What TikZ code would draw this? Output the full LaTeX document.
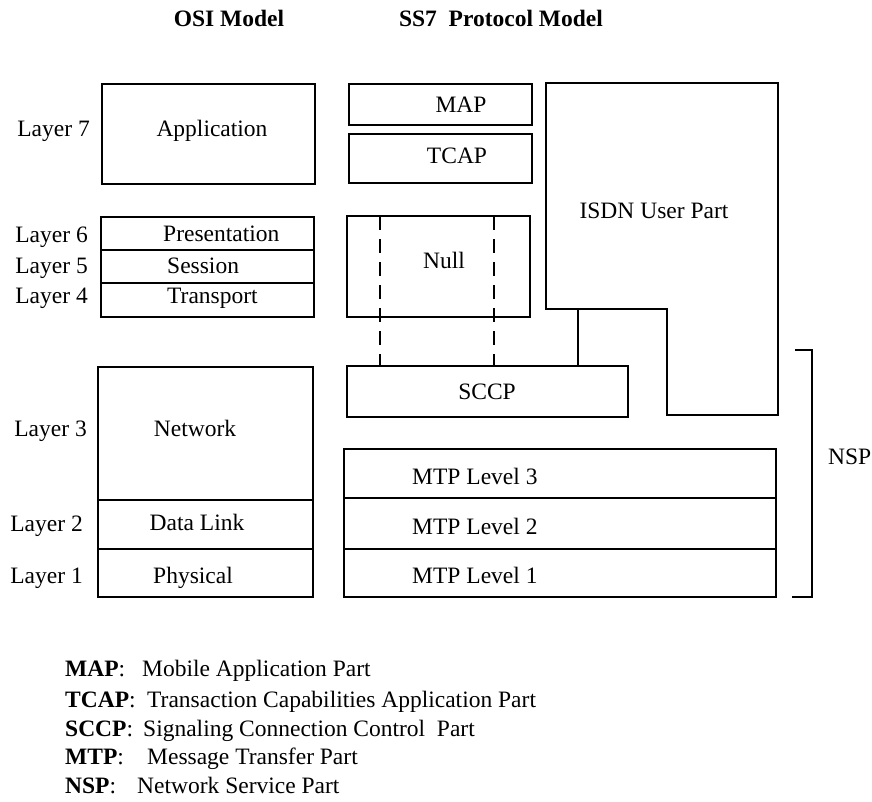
\documentclass[tikz,border=0pt]{standalone}
\usepackage{fontspec}
\setmainfont{Liberation Serif}
\begin{document}
\begin{tikzpicture}[x=1pt,y=-1pt,
  box/.style={draw, line width=1.3pt, rectangle, inner sep=0pt, outer sep=0pt},
  txt/.style={inner sep=0pt, font=\fontsize{23.5}{27}\selectfont, text height=16pt, text depth=5pt},
  ttl/.style={txt, font=\fontsize{23.5}{27}\selectfont\bfseries},
  key/.style={txt, anchor=west, font=\fontsize{23.5}{27}\selectfont\bfseries},
  link/.style={line width=1.3pt},
  dashlink/.style={line width=1.3pt, dash pattern=on 14pt off 9pt}]
\useasboundingbox (0,0) rectangle (872,801);

% titles
\node[ttl] (osititle) at (229,21) {OSI Model};
\node[ttl] (sstitle) at (501,21) {SS7\ \ Protocol Model};

% OSI stack
\node[box, minimum width=213pt, minimum height=100pt] (app) at (208.5,134) {};
\node[box, minimum width=213pt, minimum height=33pt] (pres) at (207.5,233.5) {};
\node[box, minimum width=213pt, minimum height=33pt] (sess) at (207.5,266.5) {};
\node[box, minimum width=213pt, minimum height=34pt] (trans) at (207.5,300) {};
\node[box, minimum width=215pt, minimum height=133pt] (net) at (205.5,433.5) {};
\node[box, minimum width=215pt, minimum height=49pt] (dl) at (205.5,524.5) {};
\node[box, minimum width=215pt, minimum height=48pt] (phys) at (205.5,573) {};

\node[txt] (tapp) at (212,131) {Application};
\node[txt, anchor=west] (tpres) at (163,236) {Presentation};
\node[txt, anchor=west] (tsess) at (167,268) {Session};
\node[txt, anchor=west] (ttrans) at (167,298) {Transport};
\node[txt] (tnet) at (195,431) {Network};
\node[txt] (tdl) at (197,525) {Data Link};
\node[txt] (tphys) at (193,578) {Physical};

% layer numbers
\node[txt, anchor=east] (l7) at (90,131) {Layer 7};
\node[txt, anchor=east] (l6) at (88,237) {Layer 6};
\node[txt, anchor=east] (l5) at (88,268) {Layer 5};
\node[txt, anchor=east] (l4) at (88,298) {Layer 4};
\node[txt, anchor=east] (l3) at (87,431) {Layer 3};
\node[txt, anchor=east] (l2) at (83,526) {Layer 2};
\node[txt, anchor=east] (l1) at (83,578) {Layer 1};

% SS7 stack
\node[box, minimum width=183pt, minimum height=41pt] (map) at (440.5,104.5) {};
\node[box, minimum width=183pt, minimum height=49pt] (tcap) at (440.5,158.5) {};
\node[box, minimum width=183pt, minimum height=101pt] (null) at (438.5,266.5) {};
\node[box, minimum width=281pt, minimum height=51pt] (sccp) at (487.5,391.5) {};
\node[box, minimum width=432pt, minimum height=49pt] (mtp3) at (560,473.5) {};
\node[box, minimum width=432pt, minimum height=51pt] (mtp2) at (560,523.5) {};
\node[box, minimum width=432pt, minimum height=48pt] (mtp1) at (560,573) {};

% ISDN User Part (L-shaped block)
\coordinate (isdnfoot) at (578,309);
\draw[link, line join=miter] (546,83) -- (778,83) -- (778,415) -- (667,415)
  -- (667,309) -- (546,309) -- cycle;

\node[txt] (tmap) at (461,107) {MAP};
\node[txt] (ttcap) at (457,158) {TCAP};
\node[txt] (tnull) at (444,263) {Null};
\node[txt] (tisdn) at (654,213) {ISDN User Part};
\node[txt] (tsccp) at (487,394) {SCCP};
\node[txt, anchor=west] (tmtp3) at (412,479) {MTP Level 3};
\node[txt, anchor=west] (tmtp2) at (412,529) {MTP Level 2};
\node[txt, anchor=west] (tmtp1) at (412,578) {MTP Level 1};

% connections down to SCCP
\draw[link] (isdnfoot) -- (isdnfoot |- sccp.north);
\draw[dashlink] (null.north -| 380,0) -- (sccp.north -| 380,0);
\draw[dashlink] (null.north -| 494,0) -- (sccp.north -| 494,0);

% NSP bracket
\coordinate (brtop) at (795,350);
\coordinate (brbot) at (792,597);
\draw[link] (brtop) -- (812,350) -- (812,597) -- (brbot);
\node[txt, anchor=west] (nsp) at (828,459) {NSP};

% abbreviations
\node[key] (kmap) at (65,671) {MAP\mdseries:};
\node[txt, anchor=west] (dmap) at (142,671) {Mobile Application Part};
\node[key] (ktcap) at (65,702) {TCAP\mdseries:};
\node[txt, anchor=west] (dtcap) at (147,702) {Transaction Capabilities Application Part};
\node[key] (ksccp) at (65,731) {SCCP\mdseries:};
\node[txt, anchor=west] (dsccp) at (143,731) {Signaling Connection Control\ \ Part};
\node[key] (kmtp) at (65,759) {MTP\mdseries:};
\node[txt, anchor=west] (dmtp) at (147,759) {Message Transfer Part};
\node[key] (knsp) at (65,788) {NSP\mdseries:};
\node[txt, anchor=west] (dnsp) at (137,788) {Network Service Part};
\end{tikzpicture}
\end{document}
